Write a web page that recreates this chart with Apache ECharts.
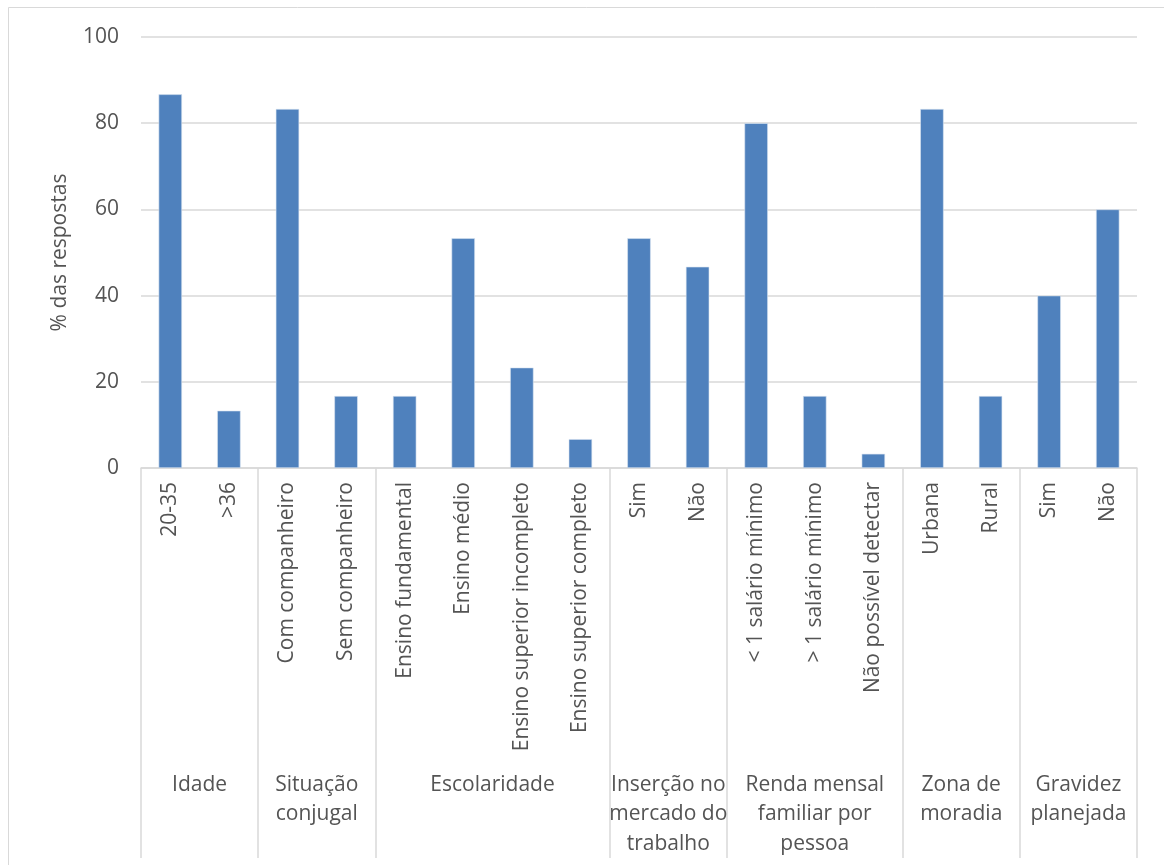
<!DOCTYPE html>
<html>
<head>
<meta charset="utf-8">
<script src="https://cdn.jsdelivr.net/npm/echarts@6/dist/echarts.min.js"></script>
<style>
html,body{margin:0;padding:0;background:#fff;}
#chart{width:1164px;height:865px;}
</style>
</head>
<body>
<div id="chart"></div>
<script>
var categories = ['20-35', '>36', 'Com companheiro', 'Sem companheiro',
  'Ensino fundamental', 'Ensino médio', 'Ensino superior incompleto', 'Ensino superior completo',
  'Sim', 'Não', '< 1 salário mínimo', '> 1 salário mínimo', 'Não possível detectar',
  'Urbana', 'Rural', 'Sim', 'Não'];
var values = [86.7, 13.3, 83.3, 16.7, 16.7, 53.3, 23.3, 6.7, 53.3, 46.7, 80, 16.7, 3.3, 83.3, 16.7, 40, 60];
var groupNames = ['Idade', 'Situação\nconjugal', 'Escolaridade', 'Inserção no\nmercado do\ntrabalho',
  'Renda mensal\nfamiliar por\npessoa', 'Zona de\nmoradia', 'Gravidez\nplanejada'];
var groupSizes = [2, 2, 4, 2, 3, 2, 2];
var yTicks = [0, 20, 40, 60, 80, 100];

var boundaries = [0];
var centers = [];
var labelByCenter = {};
groupSizes.forEach(function (s, i) {
  var start = boundaries[boundaries.length - 1];
  var c = start + s / 2;
  centers.push(c);
  labelByCenter[c] = groupNames[i];
  boundaries.push(start + s);
});

var FONT = 'Open Sans';
var TXT = '#545454';
var GRID = '#d9d9d9';

var chart = echarts.init(document.getElementById('chart'));
chart.setOption({
  animation: false,
  backgroundColor: '#fff',
  textStyle: { fontFamily: FONT },
  graphic: [{
    type: 'rect',
    shape: { x: 8.5, y: 7.5, width: 1200, height: 900 },
    style: { fill: 'none', stroke: GRID, lineWidth: 1 },
    silent: true
  }],
  grid: { left: 141, right: 27, top: 37, bottom: 397 },
  xAxis: [{
    type: 'category',
    data: categories,
    axisLine: { show: true, lineStyle: { color: GRID, width: 1.5 } },
    axisTick: { show: false },
    axisLabel: {
      rotate: 90, interval: 0, margin: 14,
      fontFamily: FONT, fontSize: 21, color: TXT
    },
    splitLine: { show: false }
  }, {
    type: 'value',
    min: 0, max: categories.length,
    position: 'bottom',
    axisLine: { show: false },
    splitLine: { show: false },
    axisTick: {
      show: true, inside: false, length: 390,
      customValues: boundaries,
      lineStyle: { color: GRID, width: 1.5 }
    },
    axisLabel: {
      show: true, margin: 302,
      customValues: centers,
      formatter: function (v) { return labelByCenter[v] || ''; },
      fontFamily: FONT, fontSize: 21, color: TXT,
      lineHeight: 29.5, align: 'center'
    }
  }],
  yAxis: {
    type: 'value',
    min: 0, max: 100, interval: 20,
    name: '% das respostas',
    nameLocation: 'middle',
    nameGap: 70,
    nameRotate: 90,
    nameTextStyle: { fontFamily: FONT, fontSize: 21, color: TXT },
    axisLine: { show: false },
    axisTick: { show: false },
    axisLabel: { margin: 22, fontFamily: FONT, fontSize: 21, color: TXT },
    splitLine: { lineStyle: { color: GRID, width: 1.5 } }
  },
  series: [{
    type: 'bar',
    xAxisIndex: 0,
    data: values,
    barWidth: '40%',
    itemStyle: { color: '#4F81BD', borderColor: '#dbe5f1', borderWidth: 0.6 }
  }]
});
</script>
</body>
</html>
